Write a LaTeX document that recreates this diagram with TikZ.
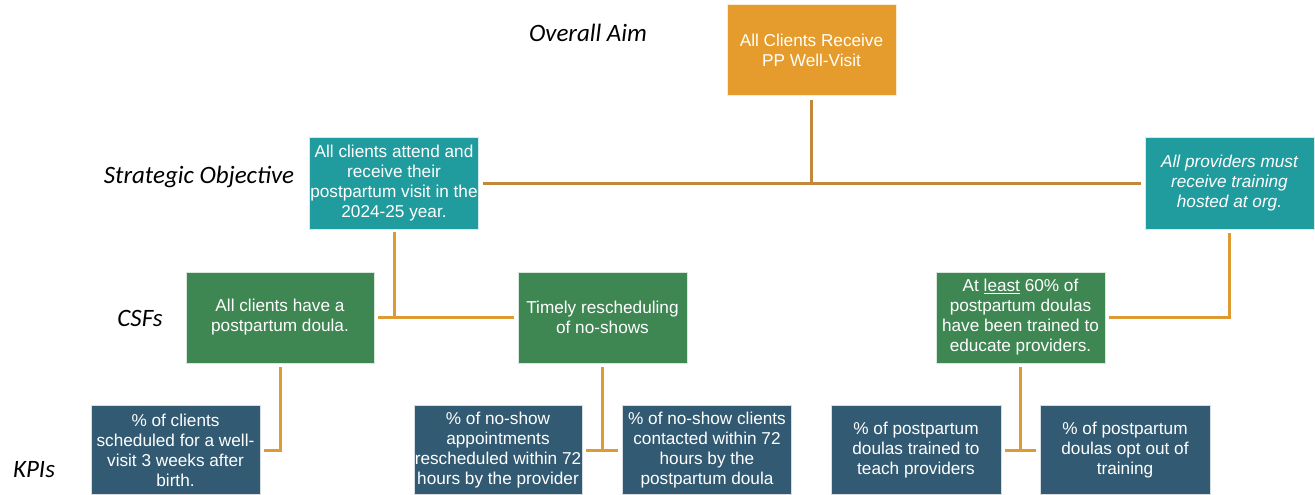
\documentclass[tikz,border=0pt]{standalone}
\usepackage{fontspec}
\setmainfont{Liberation Sans}
\newfontfamily\levelfont{Carlito}

\definecolor{aimorange}{HTML}{E69C2C}
\definecolor{objteal}{HTML}{219C9E}
\definecolor{csfgreen}{HTML}{3E8752}
\definecolor{kpiblue}{HTML}{325A72}
\definecolor{toplink}{HTML}{C2893A}
\definecolor{lowlink}{HTML}{DE9A33}

\tikzset{
  box/.style={fill=#1, draw=white!80!#1, line width=0.6pt, text=white,
    align=center, inner sep=0.5pt, font=\fontsize{17.2}{20}\selectfont},
  level/.style={font=\levelfont\itshape\fontsize{25}{28}\selectfont},
  uplink/.style={draw=toplink, line width=3pt},
  lowlink/.style={draw=lowlink, line width=3pt}
}

\begin{document}
\begin{tikzpicture}[x=1pt,y=-1pt]
    \useasboundingbox (0,0) rectangle (1315,495);
    % level labels
    \node[level] (lblaim) at (588,33) {Overall Aim};
    \node[level] (lblso) at (199,177) {Strategic Objective};
    \node[level] (lblcsf) at (140,318) {CSFs};
    \node[level] (lblkpi) at (34,470) {KPIs};
    % boxes
    \node[box=aimorange, minimum width=169pt, minimum height=91pt] (aim) at (811.5,50) {All Clients Receive\\PP Well-Visit};
    \node[box=objteal, minimum width=169pt, minimum height=92pt] (so1) at (394,183) {All clients attend and\\receive their\\postpartum visit in the\\2024-25 year.};
    \node[box=objteal, minimum width=169pt, minimum height=92pt] (so2) at (1229.5,183) {\itshape All providers must\\\itshape receive training\\\itshape hosted at org.};
    \node[box=csfgreen, minimum width=188pt, minimum height=91pt] (csf1) at (280,317.5) {All clients have a\\postpartum doula.};
    \node[box=csfgreen, minimum width=169pt, minimum height=91pt] (csf2) at (602.5,317.5) {Timely rescheduling\\of no-shows};
    \node[box=csfgreen, minimum width=169pt, minimum height=91pt] (csf3) at (1020.5,317.5) {At \underline{least} 60\% of\\postpartum doulas\\have been trained to\\educate providers.};
    \node[box=kpiblue, minimum width=169pt, minimum height=89pt] (kpi1) at (175.5,450) {\% of clients\\scheduled for a well-\\visit 3 weeks after\\birth.};
    \node[box=kpiblue, minimum width=168pt, minimum height=89pt] (kpi2) at (498,450) {\% of no-show\\appointments\\rescheduled within 72\\hours by the provider};
    \node[box=kpiblue, minimum width=169pt, minimum height=89pt] (kpi3) at (707,450) {\% of no-show clients\\contacted within 72\\hours by the\\postpartum doula};
    \node[box=kpiblue, minimum width=170pt, minimum height=89pt] (kpi4) at (916,450) {\% of postpartum\\doulas trained to\\teach providers};
    \node[box=kpiblue, minimum width=170pt, minimum height=89pt] (kpi5) at (1125,450) {\% of postpartum\\doulas opt out of\\training};
    % connectors
    \draw[uplink, shorten <=4pt] (aim.south) -- (aim.south |- so1.east);
    \draw[uplink, shorten <=4pt, shorten >=4pt] (so1.east) -- (so2.west);
    \draw[lowlink, shorten <=3pt] (so1.south) -- (so1.south |- csf1.east);
    \draw[lowlink, shorten <=4pt, shorten >=4pt] (csf1.east) -- (csf2.west);
    \draw[lowlink, shorten <=4pt, shorten >=4pt] (so2.south) |- (csf3.east);
    \draw[lowlink, shorten <=4pt, shorten >=4pt] (csf1.south) |- (kpi1.east);
    \draw[lowlink, shorten <=4pt] (csf2.south) -- (csf2.south |- kpi2.east);
    \draw[lowlink, shorten <=4pt, shorten >=4pt] (kpi2.east) -- (kpi3.west);
    \draw[lowlink, shorten <=4pt] (csf3.south) -- (csf3.south |- kpi4.east);
    \draw[lowlink, shorten <=4pt, shorten >=4pt] (kpi4.east) -- (kpi5.west);
\end{tikzpicture}
\end{document}
